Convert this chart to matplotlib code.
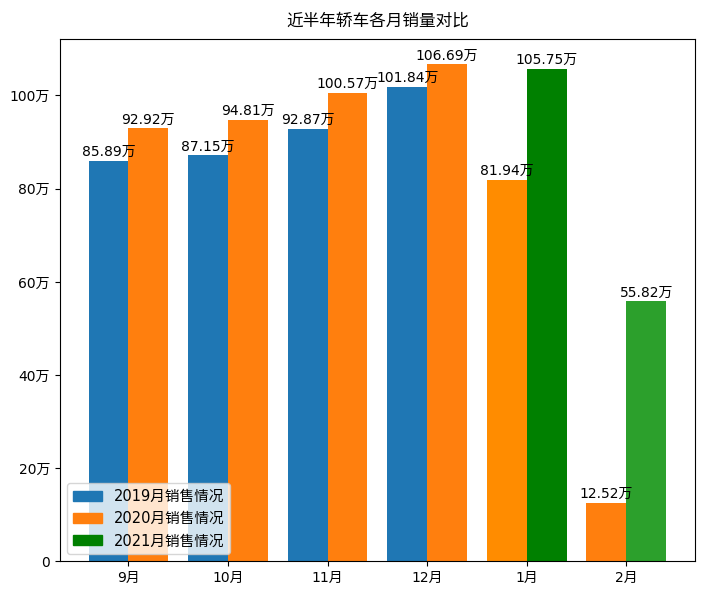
import numpy as np
import matplotlib.pyplot as plt
from matplotlib.patches import Patch

plt.rcParams['font.family'] = ['DejaVu Sans', 'Noto Sans CJK SC']
plt.rcParams['axes.unicode_minus'] = False

months = ['9月', '10月', '11月', '12月', '1月', '2月']
sales_2019 = [85.89, 87.15, 92.87, 101.84]
sales_2020 = [92.92, 94.81, 100.57, 106.69, 81.94, 12.52]
sales_2021 = [105.75, 55.82]
legend_labels = ['2019月销售情况', '2020月销售情况', '2021月销售情况']

x = np.arange(len(months))
w = 0.4

fig, ax = plt.subplots(figsize=(7.02, 6.07), dpi=100)

# 去年9-12月: 2019 vs 2020
b1 = ax.bar(x[:4] - w / 2, sales_2019, w, color='tab:blue')
b2 = ax.bar(x[:4] + w / 2, sales_2020[:4], w, color='tab:orange')
# 今年1-2月: 2020 vs 2021
b3 = ax.bar(x[4:] - w / 2, sales_2020[4:], w, color=['darkorange', 'tab:orange'])
b4 = ax.bar(x[4:] + w / 2, sales_2021, w, color=['green', 'tab:green'])

for bars in (b1, b2, b3, b4):
    for r in bars:
        h = r.get_height()
        ax.text(r.get_x() + r.get_width() / 2, h + 0.4, '%.2f万' % h,
                ha='center', va='bottom', fontsize=10)

ax.set_xticks(x)
ax.set_xticklabels(months)
yt = [0, 20, 40, 60, 80, 100]
ax.set_yticks(yt)
ax.set_yticklabels(['0' if v == 0 else '%d万' % v for v in yt])
ax.set_title('近半年轿车各月销量对比', fontsize=12, pad=10)

handles = [Patch(color='tab:blue'), Patch(color='tab:orange'), Patch(color='green')]
ax.legend(handles, legend_labels, loc='lower left', fontsize=10.5)

plt.subplots_adjust(left=0.085, right=0.99, top=0.935, bottom=0.075)
plt.savefig('out.png')
